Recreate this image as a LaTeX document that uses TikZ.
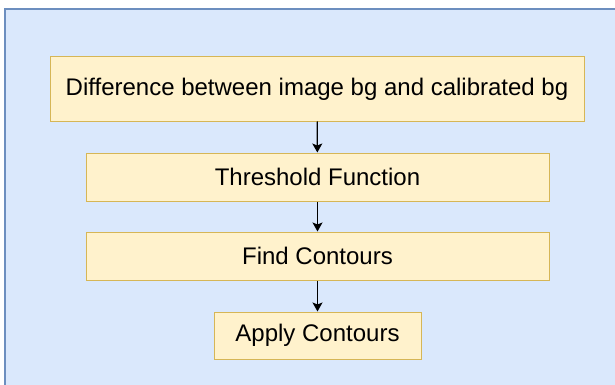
\documentclass[tikz,border=0pt]{standalone}
\usepackage{fontspec}
\setmainfont{Liberation Sans}
\usetikzlibrary{arrows.meta}
\definecolor{bgfill}{HTML}{DAE8FC}
\definecolor{bgline}{HTML}{6C8EBF}
\definecolor{boxfill}{HTML}{FFF2CC}
\definecolor{boxline}{HTML}{D6B656}
\begin{document}
\begin{tikzpicture}[x=1pt,y=-1pt,
  stepbox/.style={draw=boxline,fill=boxfill,line width=1pt,inner sep=0pt,font=\fontsize{24}{28}\selectfont},
  flow/.style={draw=black,line width=1.2pt,-{Stealth[length=9pt,width=10pt,inset=2pt]}}]
\useasboundingbox (0,0) rectangle (615,385);
\draw[fill=bgfill,draw=bgline,line width=1.5pt] (5,9) rectangle (640,400);
\node[stepbox,minimum width=534pt,minimum height=64pt] (a) at (317,89) {Difference between image bg and calibrated bg};
\node[stepbox,minimum width=463pt,minimum height=48pt] (b) at (317.5,177) {Threshold Function};
\node[stepbox,minimum width=463pt,minimum height=48pt] (c) at (317.5,256) {Find Contours};
\node[stepbox,minimum width=207pt,minimum height=47pt] (d) at (317.5,335.5) {Apply Contours};
\draw[flow] (a) -- (b);
\draw[flow] (b) -- (c);
\draw[flow] (c) -- (d);
\end{tikzpicture}
\end{document}
